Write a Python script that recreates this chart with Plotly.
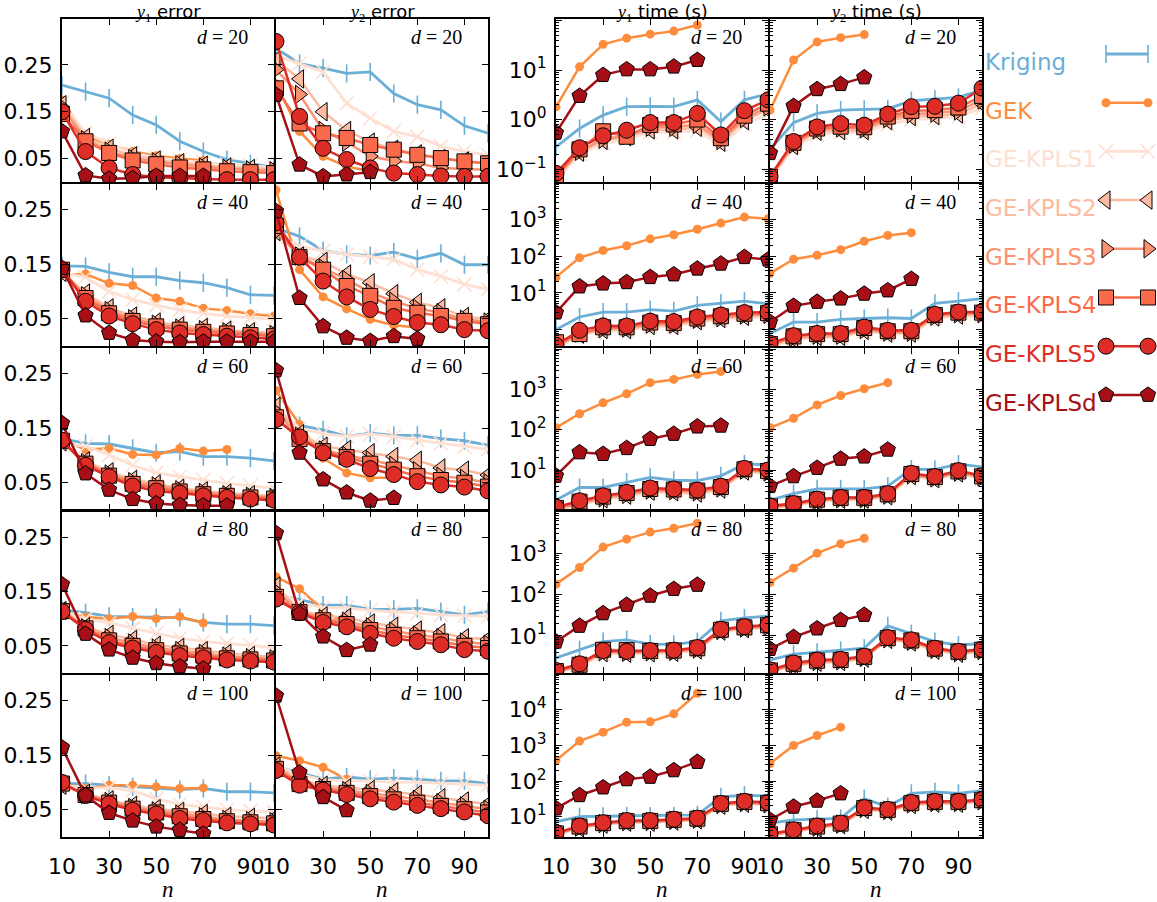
import plotly.graph_objects as go

# ---------------- data ----------------
N = [10, 20, 30, 40, 50, 60, 70, 80, 90, 100]
METHODS = ["Kriging", "GEK", "GE-KPLS1", "GE-KPLS2", "GE-KPLS3", "GE-KPLS4", "GE-KPLS5", "GE-KPLSd"]
DIMS = [20, 40, 60, 80, 100]
COL_TITLES = ["y1 error", "y2 error", "y1 time (s)", "y2 time (s)"]
ERR_TICKS = [0.05, 0.15, 0.25]
N_TICKS = [10, 30, 50, 70, 90]

# ---- y1 error ----
y1_err_d20 = {
    "Kriging": [0.207, 0.193, 0.179, 0.143, 0.122, 0.087, 0.065, 0.048, 0.039, 0.031],
    "GEK": [0.175, 0.100, 0.080, 0.065, 0.056, 0.050, 0.046],
    "GE-KPLS1": [0.170, 0.105, 0.082, 0.062, 0.052, 0.046, 0.042, 0.038, 0.034, 0.031],
    "GE-KPLS2": [0.165, 0.095, 0.072, 0.056, 0.047, 0.041, 0.036, 0.032, 0.029, 0.027],
    "GE-KPLS3": [0.160, 0.090, 0.066, 0.050, 0.043, 0.037, 0.032, 0.029, 0.026, 0.024],
    "GE-KPLS4": [0.145, 0.087, 0.062, 0.046, 0.038, 0.031, 0.027, 0.023, 0.021, 0.019],
    "GE-KPLS5": [0.150, 0.065, 0.030, 0.016, 0.010, 0.008, 0.006, 0.005, 0.005, 0.005],
    "GE-KPLSd": [0.108, 0.014, 0.007, 0.008, 0.013, 0.013, 0.013],
}
y1_err_d40 = {
    "Kriging": [0.147, 0.146, 0.135, 0.127, 0.127, 0.120, 0.116, 0.107, 0.094, 0.093],
    "GEK": [0.131, 0.132, 0.115, 0.111, 0.088, 0.082, 0.069, 0.065, 0.059, 0.055],
    "GE-KPLS1": [0.135, 0.126, 0.100, 0.085, 0.075, 0.066, 0.060, 0.055, 0.052, 0.049],
    "GE-KPLS2": [0.135, 0.097, 0.070, 0.055, 0.044, 0.037, 0.034, 0.029, 0.026, 0.024],
    "GE-KPLS3": [0.135, 0.092, 0.065, 0.050, 0.040, 0.033, 0.030, 0.026, 0.023, 0.021],
    "GE-KPLS4": [0.140, 0.088, 0.060, 0.046, 0.036, 0.030, 0.026, 0.023, 0.020, 0.018],
    "GE-KPLS5": [0.140, 0.082, 0.055, 0.041, 0.030, 0.024, 0.021, 0.018, 0.015, 0.013],
    "GE-KPLSd": [0.143, 0.056, 0.024, 0.011, 0.008, 0.007, 0.008, 0.008, 0.008, 0.008],
}
y1_err_d60 = {
    "Kriging": [0.131, 0.122, 0.121, 0.113, 0.105, 0.107, 0.098, 0.098, 0.095, 0.090],
    "GEK": [0.128, 0.111, 0.113, 0.102, 0.101, 0.113, 0.108, 0.111],
    "GE-KPLS1": [0.120, 0.117, 0.101, 0.082, 0.068, 0.061, 0.055, 0.049, 0.044, 0.040],
    "GE-KPLS2": [0.125, 0.090, 0.070, 0.056, 0.048, 0.040, 0.035, 0.031, 0.028, 0.026],
    "GE-KPLS3": [0.125, 0.087, 0.066, 0.052, 0.044, 0.037, 0.032, 0.028, 0.025, 0.023],
    "GE-KPLS4": [0.127, 0.085, 0.063, 0.048, 0.040, 0.034, 0.029, 0.026, 0.023, 0.021],
    "GE-KPLS5": [0.128, 0.082, 0.061, 0.044, 0.035, 0.031, 0.026, 0.023, 0.020, 0.018],
    "GE-KPLSd": [0.159, 0.067, 0.037, 0.020, 0.012, 0.009, 0.008, 0.008],
}
y1_err_d80 = {
    "Kriging": [0.116, 0.111, 0.104, 0.103, 0.102, 0.102, 0.093, 0.090, 0.090, 0.087],
    "GEK": [0.110, 0.103, 0.100, 0.104, 0.100, 0.104, 0.092],
    "GE-KPLS1": [0.110, 0.100, 0.092, 0.082, 0.073, 0.064, 0.058, 0.054, 0.051, 0.046],
    "GE-KPLS2": [0.115, 0.085, 0.071, 0.062, 0.051, 0.047, 0.041, 0.036, 0.032, 0.030],
    "GE-KPLS3": [0.115, 0.083, 0.065, 0.055, 0.046, 0.041, 0.036, 0.031, 0.028, 0.026],
    "GE-KPLS4": [0.114, 0.082, 0.060, 0.050, 0.042, 0.036, 0.032, 0.027, 0.025, 0.023],
    "GE-KPLS5": [0.113, 0.080, 0.056, 0.046, 0.038, 0.032, 0.028, 0.024, 0.022, 0.020],
    "GE-KPLSd": [0.163, 0.072, 0.043, 0.028, 0.018, 0.012, 0.008],
}
y1_err_d100 = {
    "Kriging": [0.098, 0.098, 0.095, 0.092, 0.089, 0.087, 0.089, 0.083, 0.083, 0.081],
    "GEK": [0.098, 0.089, 0.095, 0.095, 0.092, 0.089, 0.090],
    "GE-KPLS1": [0.095, 0.090, 0.090, 0.085, 0.070, 0.060, 0.055, 0.050, 0.048, 0.046],
    "GE-KPLS2": [0.095, 0.080, 0.068, 0.058, 0.052, 0.047, 0.043, 0.038, 0.036, 0.034],
    "GE-KPLS3": [0.097, 0.078, 0.065, 0.054, 0.048, 0.042, 0.037, 0.032, 0.030, 0.028],
    "GE-KPLS4": [0.098, 0.077, 0.063, 0.052, 0.045, 0.038, 0.033, 0.029, 0.027, 0.025],
    "GE-KPLS5": [0.100, 0.076, 0.061, 0.049, 0.042, 0.034, 0.030, 0.026, 0.024, 0.022],
    "GE-KPLSd": [0.164, 0.076, 0.044, 0.030, 0.019, 0.013, 0.006],
}

# ---- y2 error ----
y2_err_d20 = {
    "Kriging": [0.285, 0.253, 0.243, 0.232, 0.235, 0.189, 0.165, 0.154, 0.120, 0.104],
    "GEK": [0.210, 0.108, 0.055, 0.033, 0.023],
    "GE-KPLS1": [0.270, 0.253, 0.235, 0.168, 0.136, 0.108, 0.097, 0.076, 0.065, 0.058],
    "GE-KPLS2": [0.260, 0.220, 0.150, 0.110, 0.085, 0.070, 0.060, 0.050, 0.045, 0.040],
    "GE-KPLS3": [0.240, 0.187, 0.110, 0.085, 0.055, 0.045, 0.040, 0.030, 0.028, 0.026],
    "GE-KPLS4": [0.200, 0.125, 0.104, 0.094, 0.079, 0.069, 0.058, 0.051, 0.044, 0.040],
    "GE-KPLS5": [0.300, 0.140, 0.072, 0.048, 0.030, 0.019, 0.016, 0.013, 0.012, 0.012],
    "GE-KPLSd": [0.186, 0.037, 0.012, 0.016, 0.021],
}
y2_err_d40 = {
    "Kriging": [0.216, 0.201, 0.175, 0.168, 0.166, 0.172, 0.160, 0.170, 0.149, 0.149],
    "GEK": [0.286, 0.140, 0.090, 0.068, 0.049, 0.038, 0.034],
    "GE-KPLS1": [0.200, 0.183, 0.174, 0.168, 0.164, 0.159, 0.140, 0.128, 0.113, 0.104],
    "GE-KPLS2": [0.210, 0.165, 0.155, 0.132, 0.116, 0.096, 0.080, 0.070, 0.054, 0.049],
    "GE-KPLS3": [0.210, 0.165, 0.143, 0.122, 0.098, 0.082, 0.069, 0.061, 0.049, 0.044],
    "GE-KPLS4": [0.220, 0.163, 0.140, 0.110, 0.092, 0.070, 0.061, 0.055, 0.046, 0.040],
    "GE-KPLS5": [0.226, 0.163, 0.119, 0.090, 0.067, 0.054, 0.043, 0.039, 0.030, 0.028],
    "GE-KPLSd": [0.247, 0.088, 0.036, 0.015, 0.009, 0.018, 0.013],
}
y2_err_d60 = {
    "Kriging": [0.174, 0.155, 0.147, 0.135, 0.141, 0.137, 0.137, 0.131, 0.127, 0.119],
    "GEK": [0.219, 0.157, 0.095, 0.068, 0.059, 0.059],
    "GE-KPLS1": [0.190, 0.150, 0.140, 0.135, 0.139, 0.135, 0.128, 0.122, 0.116, 0.111],
    "GE-KPLS2": [0.190, 0.140, 0.117, 0.111, 0.105, 0.098, 0.091, 0.077, 0.073, 0.064],
    "GE-KPLS3": [0.180, 0.135, 0.110, 0.100, 0.092, 0.082, 0.072, 0.062, 0.058, 0.050],
    "GE-KPLS4": [0.170, 0.130, 0.108, 0.097, 0.085, 0.074, 0.062, 0.055, 0.050, 0.043],
    "GE-KPLS5": [0.166, 0.134, 0.105, 0.093, 0.076, 0.065, 0.052, 0.046, 0.042, 0.035],
    "GE-KPLSd": [0.256, 0.105, 0.056, 0.032, 0.017, 0.022],
}
y2_err_d80 = {
    "Kriging": [0.143, 0.135, 0.125, 0.125, 0.117, 0.117, 0.119, 0.113, 0.107, 0.113],
    "GEK": [0.177, 0.155, 0.116, 0.089, 0.073],
    "GE-KPLS1": [0.150, 0.130, 0.120, 0.120, 0.115, 0.113, 0.110, 0.107, 0.105, 0.104],
    "GE-KPLS2": [0.160, 0.115, 0.105, 0.102, 0.092, 0.086, 0.079, 0.074, 0.065, 0.062],
    "GE-KPLS3": [0.150, 0.113, 0.100, 0.095, 0.085, 0.077, 0.070, 0.065, 0.057, 0.053],
    "GE-KPLS4": [0.140, 0.112, 0.097, 0.090, 0.079, 0.070, 0.064, 0.058, 0.050, 0.046],
    "GE-KPLS5": [0.136, 0.111, 0.093, 0.085, 0.073, 0.064, 0.058, 0.052, 0.043, 0.040],
    "GE-KPLSd": [0.257, 0.109, 0.067, 0.042, 0.052],
}
y2_err_d100 = {
    "Kriging": [0.128, 0.118, 0.106, 0.110, 0.106, 0.108, 0.106, 0.103, 0.103, 0.098],
    "GEK": [0.149, 0.140, 0.128, 0.106],
    "GE-KPLS1": [0.130, 0.115, 0.105, 0.103, 0.103, 0.100, 0.100, 0.098, 0.097, 0.095],
    "GE-KPLS2": [0.130, 0.105, 0.095, 0.090, 0.087, 0.083, 0.078, 0.072, 0.066, 0.060],
    "GE-KPLS3": [0.127, 0.100, 0.091, 0.085, 0.080, 0.075, 0.069, 0.063, 0.057, 0.051],
    "GE-KPLS4": [0.125, 0.097, 0.088, 0.081, 0.075, 0.069, 0.063, 0.057, 0.051, 0.045],
    "GE-KPLS5": [0.122, 0.095, 0.086, 0.078, 0.070, 0.064, 0.058, 0.052, 0.046, 0.039],
    "GE-KPLSd": [0.259, 0.118, 0.073, 0.049],
}

# ---- y1 time (s) ----
y1_time_d20 = {
    "Kriging": [0.28, 0.66, 1.23, 1.82, 1.85, 1.82, 2.5, 0.91, 2.5, 3.3],
    "GEK": [1.8, 11.6, 33, 44, 53, 61, 81],
    "GE-KPLS1": [0.06, 0.20, 0.33, 0.40, 0.55, 0.55, 0.60, 0.30, 0.80, 1.3],
    "GE-KPLS2": [0.065, 0.22, 0.38, 0.45, 0.62, 0.62, 0.70, 0.35, 0.95, 1.6],
    "GE-KPLS3": [0.07, 0.23, 0.40, 0.48, 0.70, 0.70, 0.80, 0.38, 1.05, 1.8],
    "GE-KPLS4": [0.075, 0.25, 0.58, 0.45, 0.78, 0.80, 1.0, 0.42, 1.2, 2.1],
    "GE-KPLS5": [0.082, 0.27, 0.47, 0.61, 0.87, 0.87, 1.33, 0.49, 1.51, 2.5],
    "GE-KPLSd": [0.54, 3.0, 7.9, 10.3, 10.3, 11.7, 15.9],
}
y1_time_d40 = {
    "Kriging": [1.0, 2.2, 3.0, 3.0, 3.5, 3.2, 4.6, 5.3, 6.0, 5.0],
    "GEK": [27, 92, 145, 195, 300, 390, 550, 810, 1180, 1060],
    "GE-KPLS1": [0.30, 0.70, 0.90, 0.95, 1.2, 1.2, 1.6, 1.8, 2.1, 2.2],
    "GE-KPLS2": [0.32, 0.75, 1.0, 1.0, 1.3, 1.3, 1.75, 2.0, 2.3, 2.4],
    "GE-KPLS3": [0.34, 0.80, 1.05, 1.1, 1.4, 1.4, 1.9, 2.1, 2.5, 2.6],
    "GE-KPLS4": [0.45, 0.75, 1.15, 1.15, 1.55, 1.5, 2.0, 2.3, 2.7, 2.8],
    "GE-KPLS5": [0.37, 0.95, 1.26, 1.25, 1.7, 1.65, 2.2, 2.5, 2.9, 3.0],
    "GE-KPLSd": [2.9, 15, 18, 19.6, 27, 32, 46, 63, 95, 81],
}
y1_time_d60 = {
    "Kriging": [1.8, 3.7, 3.7, 5.0, 6.6, 5.6, 5.5, 7.2, 14, 13.7],
    "GEK": [112, 250, 466, 780, 1470, 1770, 2360, 2800],
    "GE-KPLS1": [1.0, 1.4, 1.85, 2.25, 2.8, 2.7, 2.5, 3.2, 9.0, 8.0],
    "GE-KPLS2": [1.05, 1.45, 1.95, 2.4, 3.0, 2.9, 2.7, 3.4, 9.5, 8.5],
    "GE-KPLS3": [1.1, 1.55, 2.05, 2.5, 3.2, 3.1, 2.9, 3.6, 10.0, 9.0],
    "GE-KPLS4": [1.15, 1.65, 2.2, 2.7, 3.4, 3.3, 3.1, 3.8, 10.5, 9.5],
    "GE-KPLS5": [1.2, 1.73, 2.3, 2.8, 3.6, 3.4, 3.2, 4.0, 11.0, 10.0],
    "GE-KPLSd": [7.2, 27.5, 25, 35, 59, 79, 120, 126],
}
y1_time_d80 = {
    "Kriging": [2.9, 4.6, 7.2, 8.0, 6.3, 6.2, 7.2, 23, 27, 30],
    "GEK": [178, 450, 1400, 2180, 3230, 4000, 5300],
    "GE-KPLS1": [1.25, 1.8, 3.7, 3.6, 3.7, 3.8, 4.4, 12.5, 14.5, 15.5],
    "GE-KPLS2": [1.3, 1.85, 3.9, 3.8, 3.9, 4.0, 4.6, 13.0, 15.0, 16.0],
    "GE-KPLS3": [1.35, 1.95, 4.1, 4.0, 4.1, 4.2, 4.8, 13.5, 15.5, 17.0],
    "GE-KPLS4": [1.4, 2.0, 4.6, 4.5, 4.3, 4.4, 5.0, 14.0, 16.0, 18.0],
    "GE-KPLS5": [1.45, 2.1, 4.4, 4.2, 4.4, 4.5, 5.2, 14.4, 16.7, 18.4],
    "GE-KPLSd": [7.2, 17.4, 35, 56, 93, 135, 171],
}
y1_time_d100 = {
    "Kriging": [7.2, 10, 10.3, 10.5, 10.3, 10.5, 11.2, 36, 40, 38],
    "GEK": [380, 1320, 2360, 4500, 4600, 7700, 29000],
    "GE-KPLS1": [3.1, 4.7, 6.0, 6.8, 6.8, 7.3, 7.9, 20, 23, 21],
    "GE-KPLS2": [3.2, 4.9, 6.2, 7.0, 7.0, 7.6, 8.2, 21, 24, 22],
    "GE-KPLS3": [3.3, 5.1, 6.4, 7.3, 7.3, 7.9, 8.5, 22, 25, 23],
    "GE-KPLS4": [3.4, 5.3, 6.6, 7.5, 7.6, 8.2, 8.8, 23, 26, 24],
    "GE-KPLS5": [3.5, 5.5, 6.8, 7.8, 7.8, 8.5, 9.1, 23.6, 27, 25],
    "GE-KPLSd": [17, 40, 66, 112, 131, 200, 344],
}

# ---- y2 time (s) ----
y2_time_d20 = {
    "Kriging": [0.25, 0.87, 1.33, 1.55, 1.6, 1.65, 2.4, 2.6, 2.8, 4.0],
    "GEK": [1.55, 15.9, 37, 45, 52],
    "GE-KPLS1": [0.06, 0.27, 0.50, 0.55, 0.55, 0.80, 1.0, 1.05, 1.15, 1.7],
    "GE-KPLS2": [0.065, 0.30, 0.58, 0.60, 0.60, 0.95, 1.15, 1.2, 1.3, 2.1],
    "GE-KPLS3": [0.068, 0.32, 0.62, 0.68, 0.65, 1.05, 1.3, 1.35, 1.5, 2.5],
    "GE-KPLS4": [0.07, 0.34, 0.66, 0.72, 0.70, 1.15, 1.5, 1.55, 1.75, 3.0],
    "GE-KPLS5": [0.071, 0.36, 0.71, 0.83, 0.77, 1.29, 1.82, 1.85, 2.14, 4.3],
    "GE-KPLSd": [0.21, 1.87, 4.1, 5.2, 7.1],
}
y2_time_d40 = {
    "Kriging": [0.78, 1.6, 1.6, 1.9, 2.0, 2.1, 2.0, 5.2, 6.0, 7.0],
    "GEK": [34, 83, 107, 152, 258, 373, 443],
    "GE-KPLS1": [0.33, 0.52, 0.60, 0.60, 0.90, 0.75, 0.75, 2.0, 2.3, 2.3],
    "GE-KPLS2": [0.35, 0.56, 0.65, 0.65, 0.95, 0.80, 0.80, 2.2, 2.5, 2.5],
    "GE-KPLS3": [0.38, 0.60, 0.70, 0.70, 1.0, 0.85, 0.85, 2.3, 2.7, 2.7],
    "GE-KPLS4": [0.40, 0.65, 0.75, 0.75, 1.1, 0.90, 0.90, 2.5, 2.9, 2.9],
    "GE-KPLS5": [0.42, 0.68, 0.78, 0.78, 1.17, 0.95, 0.95, 2.6, 3.0, 3.0],
    "GE-KPLSd": [1.6, 4.4, 5.7, 7.0, 9.5, 11.7, 24],
}
y2_time_d60 = {
    "Kriging": [1.8, 2.6, 3.4, 3.4, 3.4, 4.0, 10.6, 10.4, 14, 12],
    "GEK": [112, 193, 414, 707, 1040, 1470],
    "GE-KPLS1": [1.1, 1.3, 1.6, 1.8, 1.8, 2.2, 7.0, 5.8, 8.1, 6.1],
    "GE-KPLS2": [1.15, 1.35, 1.7, 1.9, 1.9, 2.3, 7.3, 6.1, 8.5, 6.4],
    "GE-KPLS3": [1.2, 1.4, 1.75, 1.95, 1.95, 2.4, 7.6, 6.4, 8.9, 6.7],
    "GE-KPLS4": [1.25, 1.45, 1.85, 2.05, 2.05, 2.5, 8.0, 6.7, 9.3, 7.0],
    "GE-KPLS5": [1.3, 1.48, 1.9, 2.1, 2.1, 2.6, 8.3, 6.9, 9.7, 7.2],
    "GE-KPLSd": [4.0, 7.0, 11.3, 19, 21.6, 32],
}
y2_time_d80 = {
    "Kriging": [2.6, 3.6, 4.0, 4.4, 5.0, 17.4, 11.2, 7.2, 6.0, 6.5],
    "GEK": [195, 434, 1000, 1680, 2300],
    "GE-KPLS1": [1.3, 1.9, 2.2, 2.3, 2.8, 7.9, 6.8, 4.3, 3.6, 4.0],
    "GE-KPLS2": [1.35, 1.95, 2.3, 2.4, 2.9, 8.2, 7.1, 4.5, 3.8, 4.2],
    "GE-KPLS3": [1.4, 2.0, 2.4, 2.5, 3.0, 8.5, 7.4, 4.7, 3.9, 4.4],
    "GE-KPLS4": [1.45, 2.1, 2.5, 2.6, 3.1, 8.8, 7.7, 4.9, 4.1, 4.6],
    "GE-KPLS5": [1.5, 2.2, 2.6, 2.7, 3.2, 9.1, 8.0, 5.0, 4.2, 4.7],
    "GE-KPLSd": [4.8, 9.3, 15, 24, 32],
}
y2_time_d100 = {
    "Kriging": [6.6, 8.1, 8.5, 9.0, 32, 19, 45, 50, 45, 54],
    "GEK": [310, 1000, 1900, 3250],
    "GE-KPLS1": [2.9, 3.8, 4.8, 5.8, 15.5, 14, 21, 23, 23, 26],
    "GE-KPLS2": [3.0, 3.9, 4.9, 6.0, 16, 14.5, 22, 24, 24, 27],
    "GE-KPLS3": [3.1, 4.0, 5.1, 6.2, 17, 15, 23, 25, 25, 28],
    "GE-KPLS4": [3.2, 4.2, 5.3, 6.4, 17.5, 15.5, 24, 26, 26, 29],
    "GE-KPLS5": [3.3, 4.3, 5.5, 6.6, 18, 16, 25, 27, 27, 30],
    "GE-KPLSd": [8.1, 19, 28, 45],
}

ERR_Y1 = [y1_err_d20, y1_err_d40, y1_err_d60, y1_err_d80, y1_err_d100]
ERR_Y2 = [y2_err_d20, y2_err_d40, y2_err_d60, y2_err_d80, y2_err_d100]
TIME_Y1 = [y1_time_d20, y1_time_d40, y1_time_d60, y1_time_d80, y1_time_d100]
TIME_Y2 = [y2_time_d20, y2_time_d40, y2_time_d60, y2_time_d80, y2_time_d100]
COLUMNS = [ERR_Y1, ERR_Y2, TIME_Y1, TIME_Y2]

# ---------------- styling ----------------
W, H = 1157, 902
COLS_PX = [(62, 274), (276, 488), (556, 768), (770, 982)]
ROWS_PX = [(19, 182), (183.5, 346), (347.5, 510), (511, 673), (674.5, 837)]
ERR_RANGES = [[0, 0.348], [0, 0.298], [0, 0.298], [0, 0.298], [0, 0.298]]
TIME_RANGES = [[-1.26, 2.03], [-0.45, 3.99], [0.01, 4.04], [0.10, 4.02], [0.43, 4.99]]
TIME_TICKS = [
    ([0.1, 1, 10, 100], ["10<sup>−1</sup>", "10<sup>0</sup>", "10<sup>1</sup>", ""]),
    ([1, 10, 100, 1000], ["", "10<sup>1</sup>", "10<sup>2</sup>", "10<sup>3</sup>"]),
    ([10, 100, 1000, 10000], ["10<sup>1</sup>", "10<sup>2</sup>", "10<sup>3</sup>", ""]),
    ([10, 100, 1000, 10000], ["10<sup>1</sup>", "10<sup>2</sup>", "10<sup>3</sup>", ""]),
    ([10, 100, 1000, 10000], ["10<sup>1</sup>", "10<sup>2</sup>", "10<sup>3</sup>", "10<sup>4</sup>"]),
]
MINOR_LOG = [m * 10 ** e for e in range(-2, 6) for m in range(2, 10)]

SANS = "DejaVu Sans"
SERIF = "Liberation Serif"

STYLE = {
    "Kriging": dict(color="#6baed6", symbol="line-ns", size=13, fill="#6baed6", edge="#6baed6", ew=1.6, lw=2.8),
    "GEK": dict(color="#fd8d3c", symbol="circle", size=9, fill="#fd8d3c", edge="#fd8d3c", ew=0, lw=2.5),
    "GE-KPLS1": dict(color="#fee0d2", symbol="x-thin", size=14, fill="#fee0d2", edge="#fee0d2", ew=1.6, lw=2.8),
    "GE-KPLS2": dict(color="#fcbba1", symbol="triangle-left", size=16, fill="#fcbba1", edge="black", ew=1, lw=2.5),
    "GE-KPLS3": dict(color="#fc9272", symbol="triangle-right", size=16, fill="#fc9272", edge="black", ew=1, lw=2.5),
    "GE-KPLS4": dict(color="#fb6a4a", symbol="square", size=15, fill="#fb6a4a", edge="black", ew=1, lw=2.5),
    "GE-KPLS5": dict(color="#de2d26", symbol="circle", size=16, fill="#de2d26", edge="black", ew=1, lw=2.5),
    "GE-KPLSd": dict(color="#a50f15", symbol="pentagon", size=16, fill="#a50f15", edge="black", ew=1, lw=2.5),
}


def ax_names(k):
    s = "" if k == 1 else str(k)
    return "xaxis" + s, "yaxis" + s, "x" + s, "y" + s


fig = go.Figure()
layout = dict(
    width=W, height=H, autosize=False, margin=dict(l=0, r=0, t=0, b=0, pad=0, autoexpand=False),
    paper_bgcolor="white", plot_bgcolor="white", showlegend=False,
    font=dict(family=SANS, size=22, color="black"),
)
annotations = []

for r in range(5):
    y0, y1 = ROWS_PX[r]
    for c in range(4):
        k = r * 4 + c + 1
        xa, ya, xr, yr = ax_names(k)
        x0, x1 = COLS_PX[c]
        common = dict(showline=True, linecolor="black", linewidth=2, mirror="ticks",
                      ticks="inside", ticklen=6, tickwidth=1, tickcolor="black", automargin=False,
                      showgrid=False, zeroline=False, tickfont=dict(family=SANS, size=22))
        layout[xa] = dict(domain=[x0 / W, x1 / W], anchor=yr, range=[10, 100],
                          tickmode="array", tickvals=N_TICKS,
                          showticklabels=(r == 4), ticklabelstandoff=9, **common)
        if c < 2:
            ydict = dict(range=ERR_RANGES[r], tickmode="array", tickvals=ERR_TICKS,
                         ticktext=["%.2f" % v for v in ERR_TICKS])
        else:
            tv, tt = TIME_TICKS[r]
            ydict = dict(type="log", range=TIME_RANGES[r], tickmode="array", tickvals=tv, ticktext=tt,
                         minor=dict(tickmode="array", tickvals=MINOR_LOG, ticks="inside",
                                    ticklen=3, tickcolor="black", showgrid=False))
        layout[ya] = dict(domain=[1 - y1 / H, 1 - y0 / H], anchor=xr,
                          showticklabels=(c in (0, 2)), ticklabelstandoff=3, **common, **ydict)

        data = COLUMNS[c][r]
        for m in METHODS:
            vals = data[m]
            st = STYLE[m]
            fig.add_trace(go.Scatter(
                x=N[:len(vals)], y=vals, xaxis=xr, yaxis=yr, mode="lines+markers",
                line=dict(color=st["color"], width=st["lw"]),
                marker=dict(symbol=st["symbol"], size=st["size"], color=st["fill"],
                            line=dict(color=st["edge"], width=st["ew"])),
                hoverinfo="skip", name=m,
            ))

        annotations.append(dict(
            xref="paper", yref="paper", x=(x1 - 24) / W, y=1 - (y0 + 18) / H,
            xanchor="right", yanchor="middle", showarrow=False,
            text="<i>d</i> = %d" % DIMS[r], font=dict(family=SERIF, size=20, color="black")))

# column titles and n labels
for c in range(4):
    x0, x1 = COLS_PX[c]
    t = COL_TITLES[c]
    yy = "1" if t.startswith("y1") else "2"
    rest = t[3:]
    annotations.append(dict(
        xref="paper", yref="paper", x=(x0 + x1) / 2 / W, y=1,
        xanchor="center", yanchor="top", showarrow=False, borderpad=0,
        text="<span style='font-family:%s'><i>y</i><sub>%s</sub></span> %s" % (SERIF, yy, rest),
        font=dict(family=SANS, size=18, color="black")))
    annotations.append(dict(
        xref="paper", yref="paper", x=(x0 + x1) / 2 / W, y=1 - 889 / H,
        xanchor="center", yanchor="middle", showarrow=False, borderpad=0,
        text="<i>n</i>", font=dict(family=SERIF, size=23, color="black")))

# custom legend: coloured labels on the left, line samples on the right
LEG_TEXT_X = 983
LEG_Y0, LEG_DY = 62, 48.7
LEG_KEY_X = [1106, 1148]
kx, ky, kxr, kyr = ax_names(21)
layout[kx] = dict(domain=[1090 / W, 1], range=[1090, W], visible=False, anchor=kyr, automargin=False)
layout[ky] = dict(domain=[0, 1], range=[H, 0], visible=False, anchor=kxr, automargin=False)
for i, m in enumerate(METHODS):
    st = STYLE[m]
    yc = LEG_Y0 + i * LEG_DY
    annotations.append(dict(
        xref="paper", yref="paper", x=LEG_TEXT_X / W, y=1 - yc / H,
        xanchor="left", yanchor="middle", showarrow=False, text=m,
        font=dict(family=SANS, size=23, color=st["color"])))
    fig.add_trace(go.Scatter(
        x=LEG_KEY_X, y=[yc - 8, yc - 8], xaxis=kxr, yaxis=kyr, mode="lines+markers",
        line=dict(color=st["color"], width=st["lw"]), cliponaxis=False,
        marker=dict(symbol=st["symbol"], size=st["size"], color=st["fill"],
                    line=dict(color=st["edge"], width=st["ew"])),
        hoverinfo="skip"))

layout["annotations"] = annotations
fig.update_layout(**layout)
fig.write_html("out.html", config={"displayModeBar": False, "staticPlot": True},
               post_script="document.body.style.margin='0';document.body.style.overflow='hidden';")
